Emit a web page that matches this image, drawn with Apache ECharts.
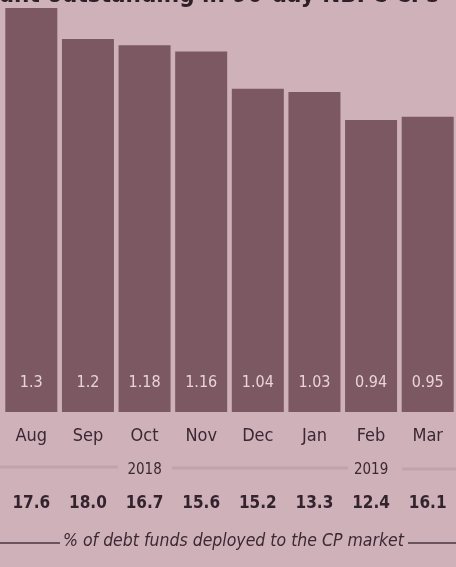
<!DOCTYPE html>
<html>
<head>
<meta charset="utf-8">
<script src="https://cdn.jsdelivr.net/npm/echarts@6/dist/echarts.min.js"></script>
<style>
html,body{margin:0;padding:0;background:#cfb1ba;}
#c{width:456px;height:567px;}
</style>
</head>
<body>
<div id="c"></div>
<script>
var months = ['Aug','Sep','Oct','Nov','Dec','Jan','Feb','Mar'];
var cpOutstanding = [1.3, 1.2, 1.18, 1.16, 1.04, 1.03, 0.94, 0.95];
var yearLabels = ['', '', '2018', '', '', '', '2019', ''];
var debtFundShare = ['17.6', '18.0', '16.7', '15.6', '15.2', '13.3', '12.4', '16.1'];
var footerText = '% of debt funds deployed to the CP market';
var titleText = 'Amount outstanding in 90-day NBFC CPs';

var FONT = '"Liberation Sans Narrow","DejaVu Sans Condensed","Roboto Condensed",sans-serif';
var chart = echarts.init(document.getElementById('c'), null, {renderer:'canvas'});
chart.setOption({
  backgroundColor: '#cfb1ba',
  animation: false,
  title: {
    text: titleText, right: 12, top: -21,
    textStyle: {fontFamily: FONT, fontSize: 24, fontWeight: 'bold', color: '#2e2028'}
  },
  grid: {left: 3, right: -8, top: 8, bottom: 155},
  xAxis: [
    {type: 'category', data: months, position: 'bottom',
     axisLine: {show: false}, axisTick: {show: false},
     axisLabel: {margin: 15, fontFamily: FONT, fontSize: 18, color: '#3a2833'}},
    {type: 'category', data: yearLabels, position: 'bottom', offset: 51,
     axisLine: {show: false}, axisTick: {show: false},
     axisLabel: {margin: 0, fontFamily: FONT, fontSize: 15, color: '#3a2833', interval: 0}},
    {type: 'category', data: debtFundShare, position: 'bottom', offset: 83,
     axisLine: {show: false}, axisTick: {show: false},
     axisLabel: {margin: 0, fontFamily: FONT, fontSize: 17, fontWeight: 'bold', color: '#33232d', interval: 0}}
  ],
  yAxis: {type: 'value', min: 0, max: 1.3, show: false, splitLine: {show: false}},
  series: [{
    type: 'bar', data: cpOutstanding, xAxisIndex: 0,
    barWidth: 52,
    itemStyle: {color: '#7b5862'},
    label: {show: true, position: 'insideBottom', distance: 21,
      fontFamily: FONT, fontSize: 16, color: '#ead3da'}
  }],
  graphic: [
    {type: 'text', left: 63, top: 532, style: {text: footerText, font: 'italic 17.5px ' + FONT, fill: '#3a2833'}},
    {type: 'line', shape: {x1: 0, y1: 543, x2: 60, y2: 543}, style: {stroke: '#4a3440', lineWidth: 1.5}},
    {type: 'line', shape: {x1: 408, y1: 543, x2: 456, y2: 543}, style: {stroke: '#4a3440', lineWidth: 1.5}},
    {type: 'line', shape: {x1: 0, y1: 467, x2: 118, y2: 467}, style: {stroke: '#c0a4ad', lineWidth: 3}},
    {type: 'line', shape: {x1: 172, y1: 468, x2: 348, y2: 468}, style: {stroke: '#c0a4ad', lineWidth: 3}},
    {type: 'line', shape: {x1: 402, y1: 469, x2: 456, y2: 469}, style: {stroke: '#c0a4ad', lineWidth: 3}}
  ]
});
</script>
</body>
</html>
